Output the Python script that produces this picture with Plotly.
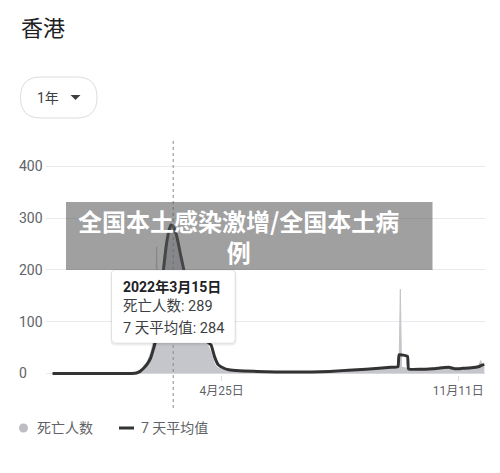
import plotly.graph_objects as go
import pandas as pd

# ---------------- data ----------------
daily_dates = [
    "2021-12-03", "2022-01-10", "2022-02-08", "2022-02-12", "2022-02-15", "2022-02-18",
    "2022-02-21", "2022-02-24", "2022-02-27", "2022-02-28", "2022-03-01", "2022-03-02",
    "2022-03-04", "2022-03-06", "2022-03-08", "2022-03-10", "2022-03-12", "2022-03-14",
    "2022-03-15", "2022-03-17", "2022-03-19", "2022-03-21", "2022-03-24", "2022-03-28",
    "2022-04-01", "2022-04-05", "2022-04-09", "2022-04-13", "2022-04-16", "2022-04-19",
    "2022-04-22", "2022-04-26", "2022-05-01", "2022-05-10", "2022-05-20", "2022-06-01",
    "2022-06-15", "2022-07-01", "2022-07-15", "2022-07-25", "2022-08-05", "2022-08-15",
    "2022-08-25", "2022-09-05", "2022-09-15", "2022-09-22", "2022-09-23", "2022-09-24",
    "2022-10-01", "2022-10-10", "2022-10-20", "2022-10-28", "2022-11-03", "2022-11-08",
    "2022-11-15", "2022-11-22", "2022-11-28", "2022-11-30", "2022-12-01", "2022-12-02",
    "2022-12-03",
]
daily_deaths = [
    0, 0, 0, 2, 6, 14,
    22, 40, 70, 60, 245, 95,
    150, 200, 240, 265, 282, 285,
    289, 270, 248, 222, 188, 140,
    105, 80, 66, 56, 40, 18,
    10, 8, 5, 4, 3, 2,
    3, 2, 4, 5, 7, 6,
    9, 10, 12, 14, 163, 12,
    9, 7, 9, 11, 13, 9,
    10, 11, 14, 25, 15, 17,
    18,
]

avg_dates = [
    "2021-12-03", "2022-01-15", "2022-02-08", "2022-02-12", "2022-02-15", "2022-02-18",
    "2022-02-21", "2022-02-24", "2022-02-26", "2022-02-28", "2022-03-02", "2022-03-05",
    "2022-03-07", "2022-03-09", "2022-03-11", "2022-03-13", "2022-03-15", "2022-03-17",
    "2022-03-19", "2022-03-21", "2022-03-24", "2022-03-28", "2022-04-01", "2022-04-05",
    "2022-04-09", "2022-04-13", "2022-04-16", "2022-04-19", "2022-04-22", "2022-04-26",
    "2022-05-01", "2022-05-10", "2022-05-25", "2022-06-10", "2022-06-25", "2022-07-10",
    "2022-07-25", "2022-08-10", "2022-08-25", "2022-09-05", "2022-09-15", "2022-09-21",
    "2022-09-22", "2022-09-29", "2022-09-30", "2022-10-10", "2022-10-20", "2022-10-28",
    "2022-11-03", "2022-11-08", "2022-11-15", "2022-11-22", "2022-11-28", "2022-12-01",
    "2022-12-03",
]
avg_values = [
    0, 0, 0, 1, 4, 10,
    18, 30, 45, 62, 105, 165,
    205, 245, 272, 287, 284, 274,
    255, 232, 200, 152, 112, 86,
    70, 61, 55, 32, 17, 11,
    7, 5, 4, 3, 3, 3,
    4, 6, 8, 10, 12, 13,
    36, 33, 9, 8, 9, 11,
    12, 9, 10, 11, 13, 16,
    17,
]

ytick_vals = [0, 100, 200, 300, 400]
xtick_dates = ["2022-04-25", "2022-11-11"]
xtick_labels = ["4月25日", "11月11日"]
title_text = "香港"
range_button = "1年"
overlay_lines = ["全国本土感染激增/全国本土病", "例"]
tooltip_date = "2022-03-15"
tooltip_title = "2022年3月15日"
tooltip_lines = ["死亡人数: 289", "7 天平均值: 284"]
legend_labels = ["死亡人数", "7 天平均值"]

# ---------------- styling ----------------
W, H = 500, 473
ML, MR, MT, MB = 15, 15, 151, 98
PLOT_L = 46
FONT = "Roboto, 'Noto Sans CJK SC', sans-serif"
AREA_COL = "#c4c6cc"
LINE_COL = "#333333"
TXT = "#5f6368"

paper_w = W - ML - MR
paper_h = H - MT - MB


def px(x):
    return (x - ML) / paper_w


def py(y):
    return (H - MB - y) / paper_h


def rrect(x0, y0, x1, y1, r):
    pts = [
        ("M", [(x0 + r, y0)]), ("L", [(x1 - r, y0)]), ("Q", [(x1, y0), (x1, y0 + r)]),
        ("L", [(x1, y1 - r)]), ("Q", [(x1, y1), (x1 - r, y1)]), ("L", [(x0 + r, y1)]),
        ("Q", [(x0, y1), (x0, y1 - r)]), ("L", [(x0, y0 + r)]), ("Q", [(x0, y0), (x0 + r, y0)]),
    ]
    s = ""
    for cmd, ps in pts:
        s += cmd + " " + " ".join(f"{px(a):.5f},{py(b):.5f}" for a, b in ps) + " "
    return s + "Z"


# x-range derived from tick positions (221.7px -> Apr 25, 458.3px -> Nov 11)
ppd = (458.3 - 221.7) / 200.0
t_ref = pd.Timestamp("2022-04-25")
x_start = t_ref - pd.Timedelta(days=(221.7 - PLOT_L) / ppd)
x_end = t_ref + pd.Timedelta(days=(W - MR - 221.7) / ppd)
y_range = [-3, 430]

fig = go.Figure()
fig.add_trace(go.Scatter(
    x=pd.to_datetime(daily_dates), y=daily_deaths, mode="lines",
    line=dict(color=AREA_COL, width=1), fill="tozeroy", fillcolor=AREA_COL,
    name=legend_labels[0], showlegend=False, hoverinfo="skip", yaxis="y",
))
fig.add_trace(go.Scatter(
    x=pd.to_datetime(avg_dates), y=avg_values, mode="lines",
    line=dict(color=LINE_COL, width=3, shape="spline", smoothing=0.4),
    name=legend_labels[1], showlegend=False, hoverinfo="skip", yaxis="y2",
))

shapes = []
# crosshair
shapes.append(dict(type="line", xref="x", yref="paper", x0=tooltip_date, x1=tooltip_date,
                   y0=py(408), y1=py(138), line=dict(color="#8a8a8a", width=1, dash="dot")))
# tooltip
shapes.append(dict(type="path", xref="paper", yref="paper", path=rrect(110.5, 270, 236.5, 345.5, 5),
                   fillcolor="rgba(0,0,0,0.07)", line=dict(width=0)))
shapes.append(dict(type="path", xref="paper", yref="paper", path=rrect(111.5, 270, 235, 343, 4),
                   fillcolor="white", line=dict(color="rgba(0,0,0,0.08)", width=1)))
# overlay banner
shapes.append(dict(type="rect", xref="paper", yref="paper", x0=px(66), x1=px(432.5), y0=py(270), y1=py(202),
                   fillcolor="rgba(85,85,85,0.56)", line=dict(width=0)))
# range button
shapes.append(dict(type="path", xref="paper", yref="paper", path=rrect(20.5, 77, 97, 118, 20.5),
                   fillcolor="white", line=dict(color="#dadce0", width=1)))
tri = f"M {px(70.5)},{py(95)} L {px(80.5)},{py(95)} L {px(75.5)},{py(100)} Z"
shapes.append(dict(type="path", xref="paper", yref="paper", path=tri, fillcolor="#3c4043", line=dict(width=0)))
# legend symbols
shapes.append(dict(type="circle", xref="paper", yref="paper", x0=px(19), x1=px(28), y0=py(432.5), y1=py(423.5),
                   fillcolor="#bdbdc5", line=dict(width=0)))
shapes.append(dict(type="line", xref="paper", yref="paper", x0=px(119), x1=px(134), y0=py(428), y1=py(428),
                   line=dict(color=LINE_COL, width=3)))

ann = []
ann.append(dict(text=title_text, x=px(19), y=py(28), xanchor="left", yanchor="middle",
                font=dict(size=22, color="#202124")))
ann.append(dict(text=range_button, x=px(35), y=py(98), xanchor="left", yanchor="middle",
                font=dict(size=14, color="#3c4043")))
ann.append(dict(text=f"<b>{tooltip_title}</b>", x=px(121), y=py(287), xanchor="left", yanchor="middle",
                font=dict(size=14, color="#202124")))
ann.append(dict(text=tooltip_lines[0], x=px(121), y=py(306), xanchor="left", yanchor="middle",
                font=dict(size=14.5, color="#3c4043")))
ann.append(dict(text=tooltip_lines[1], x=px(121), y=py(328), xanchor="left", yanchor="middle",
                font=dict(size=14.5, color="#3c4043")))
ann.append(dict(text="<br>".join(f"<b>{t}</b>" for t in overlay_lines), x=px(238), y=py(235.5),
                xanchor="center", yanchor="middle", align="center",
                font=dict(size=24, color="white", family="'Noto Sans CJK SC', sans-serif")))
ann.append(dict(text=legend_labels[0], x=px(35), y=py(428), xanchor="left", yanchor="middle",
                font=dict(size=14, color=TXT)))
ann.append(dict(text=legend_labels[1], x=px(139), y=py(428), xanchor="left", yanchor="middle",
                font=dict(size=14, color=TXT)))
for a in ann:
    a.update(xref="paper", yref="paper", showarrow=False)

fig.update_layout(
    width=W, height=H,
    margin=dict(l=ML, r=MR, t=MT, b=MB, pad=0),
    paper_bgcolor="white", plot_bgcolor="white",
    font=dict(family=FONT, color=TXT),
    showlegend=False,
    xaxis=dict(domain=[px(PLOT_L), 1], range=[x_start, x_end], tickmode="array",
               tickvals=pd.to_datetime(xtick_dates), ticktext=xtick_labels,
               ticks="outside", ticklen=5, tickcolor="#dadce0", showgrid=False, showline=False,
               zeroline=False, tickfont=dict(size=12, color=TXT)),
    yaxis=dict(range=y_range, tickmode="array", tickvals=ytick_vals, showticklabels=False,
               showgrid=True, gridcolor="#e8eaed", gridwidth=1, zeroline=False, showline=False, ticks=""),
    yaxis2=dict(range=y_range, tickmode="array", tickvals=ytick_vals, overlaying="y", anchor="free",
                position=0, side="left", ticklabelposition="inside", ticklabeloverflow="allow",
                showgrid=False, zeroline=False, showline=False, ticks="",
                tickfont=dict(size=14, color=TXT)),
    shapes=shapes, annotations=ann,
)

fig.write_html("out.html", config={"displayModeBar": False},
               post_script="document.body.style.margin='0px';")
